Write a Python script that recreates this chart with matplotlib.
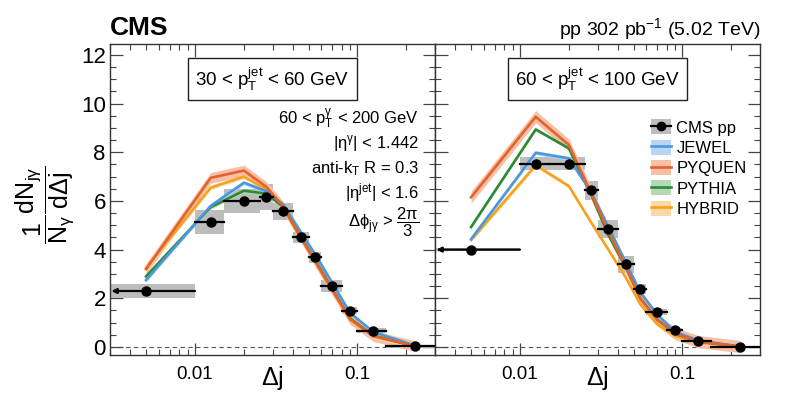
import matplotlib
matplotlib.use("Agg")
import matplotlib.pyplot as plt
from matplotlib.patches import Patch, Rectangle
from matplotlib.lines import Line2D
from matplotlib.ticker import LogLocator, FixedLocator, MultipleLocator, NullFormatter
from matplotlib.transforms import blended_transform_factory
import numpy as np

plt.rcParams['font.family'] = ['Liberation Sans', 'DejaVu Sans']
plt.rcParams['mathtext.default'] = 'regular'
plt.rcParams['mathtext.fontset'] = 'custom'
plt.rcParams['mathtext.rm'] = 'Liberation Sans'
plt.rcParams['mathtext.it'] = 'Liberation Sans'
plt.rcParams['mathtext.bf'] = 'Liberation Sans:bold'

# ---------------- data ----------------
edges = [0, 0.01, 0.015, 0.025, 0.03, 0.04, 0.05, 0.06, 0.08, 0.1, 0.15, 0.3]
centers = [0.005, 0.0125, 0.02, 0.0275, 0.035, 0.045, 0.055, 0.07, 0.09, 0.125, 0.225]

cms_l = [2.30, 5.13, 6.00, 6.17, 5.57, 4.50, 3.68, 2.50, 1.49, 0.67, 0.02]
sys_l = [0.30, 0.50, 0.48, 0.53, 0.35, 0.24, 0.24, 0.24, 0.15, 0.10, 0.05]
cms_r = [4.00, 7.53, 7.53, 6.43, 4.86, 3.39, 2.39, 1.42, 0.68, 0.26, 0.01]
sys_r = [0.06, 0.27, 0.27, 0.38, 0.37, 0.33, 0.20, 0.12, 0.10, 0.06, 0.03]

jewel_l = [2.75, 5.80, 6.75, 6.40, 5.85, 4.70, 3.80, 2.63, 1.40, 0.62, 0.06]
pyquen_l = [3.20, 6.95, 7.25, 6.58, 5.75, 4.50, 3.52, 2.35, 1.15, 0.45, 0.04]
pythia_l = [2.90, 5.75, 6.42, 6.30, 5.75, 4.50, 3.55, 2.38, 1.18, 0.47, 0.04]
hybrid_l = [3.25, 6.55, 7.00, 6.48, 5.70, 4.45, 3.50, 2.33, 1.12, 0.43, 0.04]

jewel_r = [4.43, 7.98, 7.75, 6.35, 4.93, 3.45, 2.25, 1.33, 0.62, 0.27, 0.02]
pyquen_r = [6.15, 9.46, 8.30, 6.30, 4.75, 3.25, 2.00, 1.12, 0.55, 0.22, 0.02]
pythia_r = [4.93, 8.94, 8.16, 6.25, 4.60, 3.25, 2.00, 1.12, 0.55, 0.22, 0.02]
hybrid_r = [4.40, 7.47, 6.61, 5.10, 4.00, 2.83, 1.75, 0.93, 0.45, 0.18, 0.02]

band_l = {'JEWEL': 0.08, 'PYQUEN': 0.22, 'PYTHIA': 0.08, 'HYBRID': 0.08}
band_r = {'JEWEL': 0.08, 'PYQUEN': 0.25, 'PYTHIA': 0.06, 'HYBRID': 0.08}

model_names = ['JEWEL', 'PYQUEN', 'PYTHIA', 'HYBRID']
model_colors = {'JEWEL': '#4a97df', 'PYQUEN': '#e4622b', 'PYTHIA': '#2b8a34', 'HYBRID': '#f7a21e'}
band_colors = {'JEWEL': '#b8d6f2', 'PYQUEN': '#f5c0a6', 'PYTHIA': '#b4d8b4', 'HYBRID': '#fcd9a4'}

panels = [
    dict(label=r'30 < p$_T^{jet}$ < 60 GeV', cms=cms_l, sys=sys_l,
         models={'JEWEL': jewel_l, 'PYQUEN': pyquen_l, 'PYTHIA': pythia_l, 'HYBRID': hybrid_l}, band=band_l),
    dict(label=r'60 < p$_T^{jet}$ < 100 GeV', cms=cms_r, sys=sys_r,
         models={'JEWEL': jewel_r, 'PYQUEN': pyquen_r, 'PYTHIA': pythia_r, 'HYBRID': hybrid_r}, band=band_r),
]

xlim = (0.003, 0.3)
ylim = (-0.33, 12.45)

W, H = 793, 399
fig = plt.figure(figsize=(W / 100, H / 100), dpi=100)
ax_l = fig.add_axes([110 / W, 1 - 355 / H, 325 / W, 311 / H])
ax_r = fig.add_axes([435 / W, 1 - 355 / H, 325 / W, 311 / H])

for i, (ax, p) in enumerate(zip([ax_l, ax_r], panels)):
    ax.set_xscale('log')
    ax.set_xlim(*xlim)
    ax.set_ylim(*ylim)
    ax.axhline(0, color='#555555', lw=0.8, ls=(0, (4, 3)), zorder=1)

    # systematic boxes
    for k in range(len(centers)):
        lo = max(edges[k], xlim[0])
        hi = edges[k + 1]
        ax.add_patch(Rectangle((lo, p['cms'][k] - p['sys'][k]), hi - lo, 2 * p['sys'][k],
                               facecolor='#bdbdbd', edgecolor='none', zorder=2))

    # models
    for name in model_names:
        y = np.array(p['models'][name])
        b = p['band'][name]
        ax.fill_between(centers, y - b, y + b, color=band_colors[name], lw=0, zorder=3)
    for name in ['HYBRID', 'PYTHIA', 'JEWEL', 'PYQUEN']:
        ax.plot(centers, p['models'][name], color=model_colors[name], lw=1.9, zorder=4)

    # data
    for k in range(len(centers)):
        lo = max(edges[k], xlim[0])
        hi = edges[k + 1]
        if edges[k] < xlim[0]:
            ax.annotate('', xy=(lo * 1.02, p['cms'][k]), xytext=(hi, p['cms'][k]),
                        arrowprops=dict(arrowstyle='-|>', color='k', lw=1.6, mutation_scale=7,
                                        shrinkA=0, shrinkB=0), zorder=6)
        else:
            ax.plot([lo, hi], [p['cms'][k]] * 2, color='k', lw=1.6, zorder=6)
    ax.plot(centers, p['cms'], 'o', color='k', ms=6.5, zorder=7)

    # ticks
    ax.tick_params(axis='both', which='both', direction='in', top=True, right=True,
                   color='#444444')
    ax.tick_params(axis='both', which='major', length=9, width=0.9)
    ax.tick_params(axis='both', which='minor', length=4.5, width=0.8)
    ax.xaxis.set_major_locator(FixedLocator([0.01, 0.1]))
    ax.xaxis.set_minor_locator(LogLocator(base=10, subs=np.arange(2, 10)))
    ax.xaxis.set_minor_formatter(NullFormatter())
    ax.set_xticklabels(['0.01', '0.1'], fontsize=13.5)
    ax.tick_params(axis='x', which='major', pad=8)
    ax.yaxis.set_major_locator(MultipleLocator(2))
    ax.yaxis.set_minor_locator(MultipleLocator(0.5))
    if i == 0:
        ax.tick_params(axis='y', labelsize=16, pad=3)
    else:
        ax.tick_params(axis='y', labelleft=False)
    for s in ax.spines.values():
        s.set_color('#333333')
        s.set_linewidth(1.0)

    # x label (placed manually so it stays inside the figure)
    ax.text(0.5, 1 - 378 / H, r'$\Delta$j', transform=blended_transform_factory(ax.transAxes, fig.transFigure),
            ha='center', va='center', fontsize=18)

    # panel label box
    ax.text(0.5, 0.888, p['label'], transform=ax.transAxes, ha='center', va='center', fontsize=13.5,
            bbox=dict(boxstyle='square,pad=0.4', facecolor='white', edgecolor='#222222', lw=1.0))

# selection text in left panel
sel = [(r'60 < p$_T^{\gamma}$ < 200 GeV', 119), (r'|$\eta^{\gamma}$| < 1.442', 144),
       (r'anti-k$_T$ R = 0.3', 169), (r'|$\eta^{jet}$| < 1.6', 193),
       (r'$\Delta\phi_{j\gamma}$ > $\dfrac{2\pi}{3}$', 222)]
for t, ypix in sel:
    fig.text(419 / W, 1 - ypix / H, t, ha='right', va='center', fontsize=12)

# y label
fig.text(45 / W, 1 - 205 / H, r'$\dfrac{1}{N_\gamma}\dfrac{dN_{j\gamma}}{d\Delta j}$', rotation=90,
         ha='center', va='center', fontsize=18)

# header
fig.text(110 / W, 1 - 35 / H, 'CMS', fontsize=19, fontweight='bold', ha='left', va='baseline')
fig.text(760 / W, 1 - 35 / H, r'pp 302 pb$^{-1}$ (5.02 TeV)', fontsize=14, ha='right', va='baseline')

# legend
handles = [(Patch(facecolor='#bdbdbd', edgecolor='none'),
            Line2D([], [], color='k', lw=1.6, marker='o', ms=6))]
for name in model_names:
    handles.append((Patch(facecolor=band_colors[name], edgecolor='none'),
                    Line2D([], [], color=model_colors[name], lw=1.9)))
labels = ['CMS pp'] + model_names
ax_r.legend(handles, labels, loc='upper left', bbox_to_anchor=(0.63, 0.795), frameon=False,
            fontsize=12, handlelength=1.2, handleheight=1.0, handletextpad=0.3,
            labelspacing=0.25, borderpad=0.2)

fig.savefig('out.png', dpi=100)
